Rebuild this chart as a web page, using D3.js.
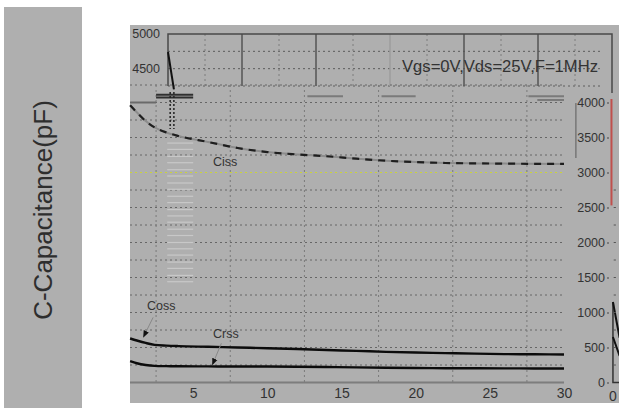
<!DOCTYPE html>
<html>
<head>
<meta charset="utf-8">
<script src="https://cdn.jsdelivr.net/npm/d3@7/dist/d3.min.js"></script>
<style>
  body { margin: 0; background: #fff; }
  svg { display: block; font-family: "Liberation Sans", Arial, sans-serif; }
</style>
</head>
<body>
<svg class="cap-chart" width="619" height="409"></svg>
<script>
// Vds (V) sample points shared by the three curves
var vds = [0.75, 1.2, 1.8, 2.4, 3.2, 4, 6, 8, 10, 12, 14, 16, 18, 20, 22, 24, 26, 28, 30];
var ciss = [3960, 3860, 3735, 3645, 3572, 3522, 3436, 3350, 3292, 3258, 3232, 3198, 3168, 3150, 3136, 3130, 3127, 3124, 3122];
var coss = [629, 600, 565, 538, 527, 520, 510, 500, 490, 478, 464, 452, 438, 428, 420, 412, 406, 403, 400];
var crss = [304, 275, 250, 238, 234, 232, 230, 228, 228, 226, 222, 216, 211, 207, 204, 203, 202, 201, 200];

var xTicks = [5, 10, 15, 20, 25, 30];
var yTicks = [0, 500, 1000, 1500, 2000, 2500, 3000, 3500, 4000];
var xGrid = [2.5, 7.5, 12.5, 17.5, 22.5, 27.5];
var yGrid = [250, 500, 750, 1000, 1250, 1500, 1750, 2000, 2250, 2500, 2750, 3000, 3250, 3500, 3750, 4000, 4250];

// labels: [text, vds, pF] and arrows: [fromVds, fromPF, toVds, toPF]
var curveLabels = [["Ciss", 7.15, 3150], ["Coss", 2.85, 1093], ["Crss", 7.2, 693]];
var arrows = [[2.3, 930, 1.65, 650], [6.9, 560, 6.3, 255]];

// overlapping top frame left over from another plot
var insetTicks = [4500, 5000];
var insetSolid = [5, 10, 15, 20, 25];
var insetDotted = [2.5, 7.5, 12.5, 17.5, 22.5, 27.5];
var insetHoriz = [4250, 4500, 4750];
var spikeVds = [0, 0.4];
var spikePF = [4740, 4200];

// stray scan marks in the plot: [fromVds, toVds, pF, colour]
var strayBars = [
  [0.75, 2.5, 4000, "#6a6a6a"], [2.5, 5.0, 4110, "#2f2f2f"], [2.5, 5.0, 4072, "#2f2f2f"],
  [12.7, 15.1, 4090, "#7a7a7a"], [17.7, 20.0, 4090, "#7a7a7a"], [27.6, 30.0, 4090, "#7a7a7a"],
  [28.2, 30.0, 4036, "#7a7a7a"]
];
var ladderPF = [3420, 3330, 3230, 3140, 3040, 2950, 2850, 2760, 2660, 2570, 2470, 2380, 2290,
  2190, 2100, 2000, 1910, 1820, 1720, 1630, 1530, 1440];

// edge of the next plot on the right
var edgeVds = [33.3, 33.75];
var edgeCurve1 = [1150, 640];
var edgeCurve2 = [650, 380];

var svg = d3.select(".cap-chart");

var x = d3.scaleLinear().domain([0, 30]).range([119, 564]);
var y = d3.scaleLinear().domain([0, 4000]).range([382.5, 102.5]);
var xi = d3.scaleLinear().domain([0, 30]).range([168, 612]);
var yi = d3.scaleLinear().domain([4250, 5000]).range([86, 34]);

// grey panels
svg.append("rect").attr("x", 4).attr("y", 7).attr("width", 78).attr("height", 401).attr("fill", "#afafaf");
svg.append("rect").attr("x", 130).attr("y", 25).attr("width", 489).attr("height", 378).attr("fill", "#afafaf");

svg.append("text")
  .attr("transform", "translate(52,210) rotate(-90)")
  .attr("text-anchor", "middle")
  .attr("font-size", 26)
  .attr("fill", "#2e2e2e")
  .text("C-Capacitance(pF)");

// inset frame at the top
var inset = svg.append("g");
inset.selectAll(".ih").data(insetHoriz).enter().append("line")
  .attr("x1", xi(0)).attr("x2", xi(29.2))
  .attr("y1", function(d) { return yi(d); }).attr("y2", function(d) { return yi(d); })
  .attr("stroke", "#5c5c5c").attr("stroke-dasharray", "2,3");
inset.selectAll(".id").data(insetDotted).enter().append("line")
  .attr("x1", function(d) { return xi(d); }).attr("x2", function(d) { return xi(d); })
  .attr("y1", yi(5000)).attr("y2", yi(4250))
  .attr("stroke", "#7c7c7c").attr("stroke-dasharray", "2,3");
inset.selectAll(".is").data(insetSolid).enter().append("line")
  .attr("x1", function(d) { return xi(d); }).attr("x2", function(d) { return xi(d); })
  .attr("y1", yi(5000)).attr("y2", yi(4250))
  .attr("stroke", function(d) { return d === 15 ? "#9c9c9c" : "#555"; })
  .attr("stroke-width", 1.5);
inset.append("path")
  .attr("d", "M" + xi(0) + "," + yi(4250) + "V" + yi(5000) + "H" + xi(30) + "V" + (yi(4250) + 7))
  .attr("fill", "none").attr("stroke", "#4a4a4a").attr("stroke-width", 1.5);
inset.selectAll(".il").data(insetTicks).enter().append("text")
  .attr("x", 160).attr("y", function(d) { return yi(d); })
  .attr("dy", "0.35em").attr("text-anchor", "end")
  .attr("font-size", 12.5).attr("fill", "#333")
  .text(function(d) { return d; });
inset.append("path")
  .datum(d3.zip(spikeVds, spikePF))
  .attr("d", d3.line().x(function(d) { return xi(d[0]); }).y(function(d) { return yi(d[1]); }))
  .attr("stroke", "#111").attr("stroke-width", 2).attr("fill", "none");

// main grid
var grid = svg.append("g");
grid.selectAll(".gh").data(yGrid).enter().append("line")
  .attr("x1", 130).attr("x2", x(30))
  .attr("y1", function(d) { return y(d); }).attr("y2", function(d) { return y(d); })
  .attr("stroke", function(d) { return d === 3000 ? "#c9d43a" : "#666"; })
  .attr("stroke-dasharray", "2,3");
grid.selectAll(".gv").data(xGrid).enter().append("line")
  .attr("x1", function(d) { return x(d); }).attr("x2", function(d) { return x(d); })
  .attr("y1", y(4250)).attr("y2", y(0))
  .attr("stroke", "#7a7a7a").attr("stroke-dasharray", "2,3");

// stray marks
grid.selectAll(".ladder").data(ladderPF).enter().append("line")
  .attr("x1", x(3.25)).attr("x2", x(5.0))
  .attr("y1", function(d) { return y(d); }).attr("y2", function(d) { return y(d); })
  .attr("stroke", "#c8c8c8").attr("stroke-width", 1.2);
grid.selectAll(".stray").data(strayBars).enter().append("line")
  .attr("x1", function(d) { return x(d[0]); }).attr("x2", function(d) { return x(d[1]); })
  .attr("y1", function(d) { return y(d[2]); }).attr("y2", function(d) { return y(d[2]); })
  .attr("stroke", function(d) { return d[3]; }).attr("stroke-width", 2);
[3.45, 3.7].forEach(function(v) {
  grid.append("line")
    .attr("x1", x(v)).attr("x2", x(v)).attr("y1", y(4150)).attr("y2", y(3620))
    .attr("stroke", "#222").attr("stroke-width", 1.5).attr("stroke-dasharray", "2,2");
});
grid.append("line").attr("x1", x(30.8)).attr("x2", x(30.8)).attr("y1", y(3993)).attr("y2", y(3207))
  .attr("stroke", "#777").attr("stroke-width", 1.5);
grid.append("line").attr("x1", x(33.2)).attr("x2", x(33.2)).attr("y1", y(4050)).attr("y2", y(2530))
  .attr("stroke", "#c0504d").attr("stroke-width", 2);

// axes
svg.append("line").attr("x1", 130).attr("x2", x(30)).attr("y1", y(0)).attr("y2", y(0))
  .attr("stroke", "#7d7d7d").attr("stroke-width", 2);

var xAxis = svg.append("g")
  .attr("transform", "translate(0," + (y(0) + 4) + ")")
  .call(d3.axisBottom(x).tickValues(xTicks).tickSize(0).tickPadding(2));
xAxis.select(".domain").remove();
xAxis.selectAll("text").attr("font-size", 14).attr("fill", "#333").attr("font-family", null);

var yAxis = svg.append("g")
  .attr("transform", "translate(607,0)")
  .call(d3.axisLeft(y).tickValues(yTicks).tickFormat(d3.format("d")).tickSize(0).tickPadding(2));
yAxis.select(".domain").remove();
yAxis.selectAll("text").attr("font-size", 12.5).attr("fill", "#333").attr("font-family", null);
yAxis.selectAll(".tick").append("line")
  .attr("x1", 0).attr("x2", 2).attr("stroke", "#444");

// curves
var line = d3.line()
  .x(function(d) { return x(d[0]); })
  .y(function(d) { return y(d[1]); })
  .curve(d3.curveMonotoneX);

svg.append("path").datum(d3.zip(vds, ciss)).attr("d", line)
  .attr("fill", "none").attr("stroke", "#8c8c8c").attr("stroke-width", 2);
svg.append("path").datum(d3.zip(vds, ciss)).attr("d", line)
  .attr("fill", "none").attr("stroke", "#1e1e1e").attr("stroke-width", 2.2)
  .attr("stroke-dasharray", "7,6");
[coss, crss].forEach(function(series) {
  svg.append("path").datum(d3.zip(vds, series)).attr("d", line)
    .attr("fill", "none").attr("stroke", "#0c0c0c").attr("stroke-width", 2.4);
});

// labels and arrows
svg.selectAll(".clabel").data(curveLabels).enter().append("text")
  .attr("x", function(d) { return x(d[1]); })
  .attr("y", function(d) { return y(d[2]); })
  .attr("dy", "0.35em").attr("text-anchor", "middle")
  .attr("font-size", 12.5).attr("fill", "#333")
  .text(function(d) { return d[0]; });

svg.append("defs").append("marker")
  .attr("id", "head").attr("viewBox", "0 0 10 10")
  .attr("refX", 9).attr("refY", 5)
  .attr("markerWidth", 7).attr("markerHeight", 7)
  .attr("orient", "auto")
  .append("path").attr("d", "M0,1L10,5L0,9Z").attr("fill", "#111");
svg.selectAll(".arrow").data(arrows).enter().append("line")
  .attr("x1", function(d) { return x(d[0]); }).attr("y1", function(d) { return y(d[1]); })
  .attr("x2", function(d) { return x(d[2]); }).attr("y2", function(d) { return y(d[3]); })
  .attr("stroke", "#888").attr("stroke-width", 1)
  .attr("marker-end", "url(#head)");

svg.append("text")
  .attr("x", 402).attr("y", 66).attr("dy", "0.35em")
  .attr("font-size", 16).attr("fill", "#333")
  .attr("textLength", 196).attr("lengthAdjust", "spacingAndGlyphs")
  .text("Vgs=0V,Vds=25V,F=1MHz");

// edge of the neighbouring plot
svg.append("path")
  .attr("d", "M" + x(33.3) + "," + y(1150) + "V" + y(0) + "H619")
  .attr("fill", "none").attr("stroke", "#333").attr("stroke-width", 1.5);
[edgeCurve1, edgeCurve2].forEach(function(series) {
  svg.append("path").datum(d3.zip(edgeVds, series))
    .attr("d", d3.line().x(function(d) { return x(d[0]); }).y(function(d) { return y(d[1]); }))
    .attr("fill", "none").attr("stroke", "#111").attr("stroke-width", 2);
});
svg.selectAll(".etick").data(d3.range(250, 3000, 250)).enter().append("line")
  .attr("x1", x(33.35)).attr("x2", x(33.5))
  .attr("y1", function(d) { return y(d); }).attr("y2", function(d) { return y(d); })
  .attr("stroke", "#555");
svg.append("text").attr("x", x(33.3)).attr("y", 396).attr("dy", "0.35em")
  .attr("text-anchor", "middle").attr("font-size", 14).attr("fill", "#333").text("0");
</script>
</body>
</html>
